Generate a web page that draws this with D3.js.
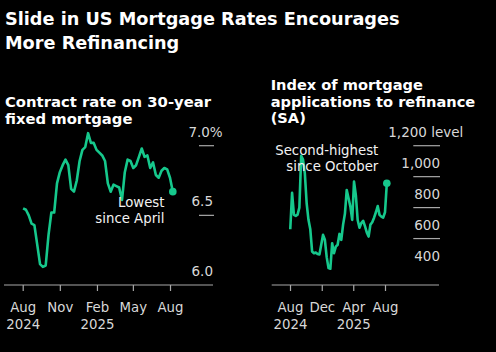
<!DOCTYPE html>
<html>
<head>
<meta charset="utf-8">
<script src="https://cdn.jsdelivr.net/npm/d3@7"></script>
<style>
  html, body { margin: 0; padding: 0; background: #000; }
  svg { display: block; }
  text { font-family: "DejaVu Sans", sans-serif; }
</style>
</head>
<body>
<svg id="chart"></svg>
<script>
// weekly observations, first week ending 2024-08-02
const firstWeek = '2024-08-02';

// MBA 30-year fixed contract rate, %
const rateValues = [
  6.55, 6.54, 6.50, 6.44, 6.43, 6.29, 6.15, 6.13, 6.14, 6.36,
  6.52, 6.52, 6.73, 6.81, 6.86, 6.90, 6.86, 6.69, 6.67, 6.75,
  6.89, 6.97, 6.99, 7.09, 7.02, 7.02, 6.97, 6.95, 6.93, 6.89,
  6.73, 6.67, 6.72, 6.71, 6.70, 6.61, 6.81, 6.90, 6.89, 6.84,
  6.86, 6.92, 6.98, 6.92, 6.93, 6.84, 6.88, 6.79, 6.77, 6.82,
  6.84, 6.83, 6.77, 6.67
];

// refinance index (SA)
const refiValues = [
  660, 895, 753, 747, 755, 800, 1135, 1110, 1022, 828,
  721, 660, 516, 505, 510, 500, 497, 560, 624, 592,
  480, 409, 405, 570, 505, 548, 560, 630, 592, 690,
  760, 914, 860, 806, 721, 968, 880, 720, 670, 700,
  715, 680, 640, 613, 690, 705, 735, 770, 810, 753,
  742, 735, 770, 957
];

const rateTicks = [6.0, 6.5, 7.0];
const refiTicks = [400, 600, 800, 1000, 1200];

const leftMonths = ['2024-08-01', '2024-11-01', '2025-02-01', '2025-05-01', '2025-08-01'];
const rightMonths = ['2024-08-01', '2024-12-01', '2025-04-01', '2025-08-01'];
const yearLabels = { '2024-08-01': '2024', '2025-02-01': '2025', '2025-04-01': '2025' };

const W = 496, H = 352;
const green = '#16c88c';
const grey = '#a8a8a8';
const tickText = '#d8d8d8';

const parse = d3.utcParse('%Y-%m-%d');
const dates = rateValues.map((d, i) => d3.utcDay.offset(parse(firstWeek), 7 * i));

const svg = d3.select('#chart')
  .attr('width', W)
  .attr('height', H);

svg.append('rect').attr('width', W).attr('height', H).attr('fill', '#000');

// Title
svg.append('text')
  .attr('x', 5)
  .attr('fill', '#fff')
  .style('font-weight', 'bold')
  .style('font-size', '17.7px')
  .selectAll('tspan')
  .data(['Slide in US Mortgage Rates Encourages', 'More Refinancing'])
  .join('tspan')
  .attr('x', 5)
  .attr('y', (d, i) => 25 + i * 23.5)
  .text(d => d);

function drawPanel(cfg) {
  const g = svg.append('g');

  const x = d3.scaleUtc()
    .domain([parse('2024-08-01'), parse('2025-08-01')])
    .range(cfg.xRange);

  const y = d3.scaleLinear()
    .domain(cfg.yDomain)
    .range([285, 145.7]);

  // subtitle
  g.append('text')
    .attr('fill', '#fff')
    .style('font-weight', 'bold')
    .style('font-size', cfg.subSize)
    .selectAll('tspan')
    .data(cfg.subtitle)
    .join('tspan')
    .attr('x', cfg.subX)
    .attr('y', (d, i) => cfg.subY + i * 16.5)
    .text(d => d);

  // short gridlines + labels on the right
  g.append('g')
    .selectAll('line')
    .data(cfg.gridTicks)
    .join('line')
    .attr('x1', cfg.gridX[0])
    .attr('x2', cfg.gridX[1])
    .attr('y1', d => y(d))
    .attr('y2', d => y(d))
    .attr('stroke', grey)
    .attr('stroke-width', 1.2);

  g.append('g')
    .selectAll('text')
    .data(cfg.yTicks)
    .join('text')
    .attr('x', cfg.labelX)
    .attr('y', d => y(d) - 9)
    .attr('text-anchor', 'end')
    .attr('fill', tickText)
    .style('font-size', '13.5px')
    .text(cfg.yFormat);

  // x axis
  const axis = g.append('g')
    .attr('transform', 'translate(0,285)')
    .call(d3.axisBottom(x)
      .tickValues(cfg.months.map(parse))
      .tickSize(6)
      .tickFormat(d3.utcFormat('%b')));

  axis.select('.domain').remove();
  axis.selectAll('.tick line').attr('stroke', grey).attr('stroke-width', 1.2);
  axis.selectAll('.tick text')
    .attr('y', 26.7)
    .attr('dy', 0)
    .attr('fill', tickText)
    .style('font-size', '13.3px')
    .style('font-family', '"DejaVu Sans", sans-serif');

  axis.append('line')
    .attr('x1', cfg.baseX[0])
    .attr('x2', cfg.baseX[1])
    .attr('stroke', grey)
    .attr('stroke-width', 1.2);

  axis.selectAll('.tick')
    .filter(d => yearLabels[d3.utcFormat('%Y-%m-%d')(d)])
    .append('text')
    .attr('y', 44.3)
    .attr('text-anchor', 'middle')
    .attr('fill', tickText)
    .style('font-size', '13.3px')
    .text(d => yearLabels[d3.utcFormat('%Y-%m-%d')(d)]);

  // line
  const line = d3.line()
    .x((d, i) => x(dates[i]))
    .y(d => y(d));

  g.append('path')
    .datum(cfg.values)
    .attr('d', line)
    .attr('fill', 'none')
    .attr('stroke', green)
    .attr('stroke-width', 2.6)
    .attr('stroke-linejoin', 'round');

  const last = cfg.values.length - 1;
  g.append('circle')
    .attr('cx', x(dates[last]))
    .attr('cy', y(cfg.values[last]))
    .attr('r', 3.8)
    .attr('fill', green);

  // annotation
  g.append('text')
    .attr('fill', '#f2f2f2')
    .attr('text-anchor', 'end')
    .style('font-size', '13.3px')
    .selectAll('tspan')
    .data(cfg.note)
    .join('tspan')
    .attr('x', cfg.noteX)
    .attr('y', (d, i) => cfg.noteY + i * 15.5)
    .text(d => d);
}

drawPanel({
  values: rateValues,
  xRange: [22.7, 170],
  yDomain: [6.0, 7.0],
  gridTicks: [6.5, 7.0],
  yTicks: rateTicks,
  yFormat: d => d3.format('.1f')(d) + (d === 7.0 ? '%' : ''),
  labelX: 213,
  gridX: [199, 214],
  baseX: [4, 213],
  months: leftMonths,
  subtitle: ['Contract rate on 30-year', 'fixed mortgage'],
  subX: 5,
  subY: 107.3,
  subSize: '14.8px',
  note: ['Lowest', 'since April'],
  noteX: 164.5,
  noteY: 207.3
});

drawPanel({
  values: refiValues,
  xRange: [290, 385],
  yDomain: [300, 1200],
  gridTicks: [600, 800, 1000, 1200],
  yTicks: refiTicks,
  yFormat: d => d3.format(',')(d) + (d === 1200 ? ' level' : ''),
  labelX: 440,
  gridX: [413.3, 440],
  baseX: [271.7, 439],
  months: rightMonths,
  subtitle: ['Index of mortgage', 'applications to refinance', '(SA)'],
  subX: 270.7,
  subY: 90,
  subSize: '14.6px',
  note: ['Second-highest', 'since October'],
  noteX: 378.3,
  noteY: 155
});

// the top label "1,200 level" extends past the gridline edge
svg.selectAll('text')
  .filter(function () { return d3.select(this).text() === '1,200 level'; })
  .attr('x', 463.3);
svg.selectAll('text')
  .filter(function () { return d3.select(this).text() === '7.0%'; })
  .attr('x', 222.7);
</script>
</body>
</html>
